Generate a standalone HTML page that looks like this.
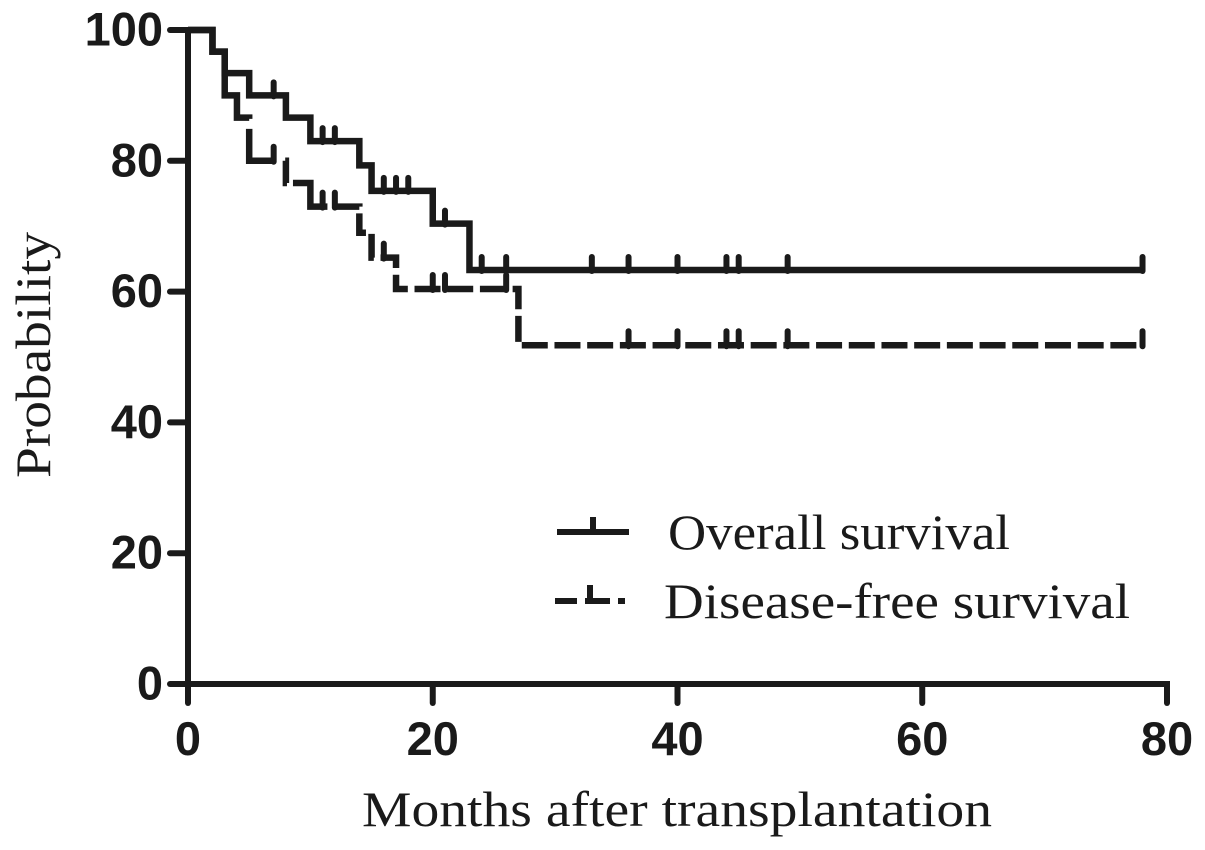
<!DOCTYPE html>
<html>
<head>
<meta charset="utf-8">
<style>
html,body{margin:0;padding:0;background:#fff;}
svg{display:block;}
text{fill:#1a1a1a;}
.tick-label{font-family:"Liberation Sans",sans-serif;font-weight:bold;font-size:47px;}
.serif{font-family:"Liberation Serif",serif;}
</style>
</head>
<body>
<svg id="chart" xmlns="http://www.w3.org/2000/svg" width="1205" height="850" viewBox="0 0 1205 850">
<text class="serif" font-size="50" transform="translate(50,355) rotate(-90)" text-anchor="middle" textLength="246" lengthAdjust="spacingAndGlyphs">Probability</text>
<text class="serif" font-size="50" x="362" y="826" textLength="630" lengthAdjust="spacingAndGlyphs">Months after transplantation</text>
<g>
<path d="M557 532H629M593 532V517" fill="none" stroke="#1a1a1a" stroke-width="6"/>
<text class="serif" font-size="50" x="668" y="549" textLength="342" lengthAdjust="spacingAndGlyphs">Overall survival</text>
<path d="M555 601H577M585 601H610M618 601H625M590 601V585" fill="none" stroke="#1a1a1a" stroke-width="6"/>
<text class="serif" font-size="50" x="664" y="618" textLength="466" lengthAdjust="spacingAndGlyphs">Disease-free survival</text>
</g>
</svg>
<script>
var xTicks = [0, 20, 40, 60, 80];
var yTicks = [0, 20, 40, 60, 80, 100];
var overallMonths = [0, 2, 3, 5, 8, 10, 14, 15, 20, 23, 78];
var overallValues = [100, 96.7, 93.4, 90, 86.6, 83, 79.3, 75.4, 70.4, 63.3, 63.3];
var overallCensored = [7, 11, 12, 16, 17, 18, 21, 24, 26, 33, 36, 40, 44, 45, 49, 78];
var diseaseFreeMonths = [0, 2, 3, 4, 5, 8, 10, 14, 15, 16, 17, 27, 78];
var diseaseFreeValues = [100, 96.7, 90, 86.6, 80, 76.6, 73, 69, 65.2, 65.2, 60.4, 51.8, 51.8];
var diseaseFreeCensored = [7, 11, 12, 16, 20, 21, 26, 36, 40, 44, 45, 49, 78];

var svg = document.getElementById('chart');
var NS = 'http://www.w3.org/2000/svg';
var INK = '#1a1a1a';
function xScale(m) { return 188 + (m - 0) * (1167 - 188) / 80; }
function yScale(v) { return 684 - v * (684 - 30) / 100; }
function make(tag, parent) {
  var el = document.createElementNS(NS, tag);
  parent.appendChild(el);
  return el;
}
function valueAt(months, values, m) {
  var v = values[0];
  for (var i = 0; i < months.length; i++) { if (months[i] <= m) v = values[i]; }
  return v;
}
function stepPath(months, values) {
  var d = 'M' + xScale(months[0]) + ' ' + yScale(values[0]);
  for (var i = 1; i < months.length; i++) {
    d += 'H' + xScale(months[i]);
    d += 'V' + yScale(values[i]);
  }
  return d;
}
function dashPattern() {
  var pattern = '150 10 58 10 24 6 58 6';
  for (var i = 0; i < 40; i++) { pattern += ' 26 6.7'; }
  return pattern;
}

var axes = make('g', svg);



var yAxis = make('line', axes);


yAxis.setAttribute('x1', xScale(0));
yAxis.setAttribute('x2', xScale(0));
yAxis.setAttribute('y1', yScale(100) - 3);
yAxis.setAttribute('y2', yScale(0) + 3);
yAxis.setAttribute('stroke', INK);
yAxis.setAttribute('stroke-width', 6);

var xAxis = make('line', axes);


xAxis.setAttribute('x1', xScale(0) - 3);
xAxis.setAttribute('x2', xScale(80) + 3);
xAxis.setAttribute('y1', yScale(0));
xAxis.setAttribute('y2', yScale(0));
xAxis.setAttribute('stroke', INK);
xAxis.setAttribute('stroke-width', 6);

xTicks.forEach(function (t) {
  var tick = make('line', axes);
  
  
  tick.setAttribute('x1', xScale(t));
  tick.setAttribute('x2', xScale(t));
  tick.setAttribute('y1', yScale(0));
  tick.setAttribute('y2', yScale(0) + 19);
  tick.setAttribute('stroke', INK);
  tick.setAttribute('stroke-width', 6);
  tick.setAttribute('stroke-linecap', 'round');
  var label = make('text', axes);
  
  
  label.setAttribute('class', 'tick-label');
  label.setAttribute('x', xScale(t));
  label.setAttribute('y', 755);
  label.setAttribute('text-anchor', 'middle');
  label.textContent = t;
});

yTicks.forEach(function (t) {
  var tick = make('line', axes);
  
  
  tick.setAttribute('x1', xScale(0) - 18);
  tick.setAttribute('x2', xScale(0));
  tick.setAttribute('y1', yScale(t));
  tick.setAttribute('y2', yScale(t));
  tick.setAttribute('stroke', INK);
  tick.setAttribute('stroke-width', 6);
  tick.setAttribute('stroke-linecap', 'round');
  var label = make('text', axes);
  
  
  label.setAttribute('class', 'tick-label');
  label.setAttribute('x', 163);
  label.setAttribute('y', yScale(t) + 15.5);
  label.setAttribute('text-anchor', 'end');
  label.textContent = t;
});

var overallLine = make('path', svg);


overallLine.setAttribute('d', stepPath(overallMonths, overallValues));
overallLine.setAttribute('fill', 'none');
overallLine.setAttribute('stroke', INK);
overallLine.setAttribute('stroke-width', 6.5);

var diseaseFreeLine = make('path', svg);


diseaseFreeLine.setAttribute('d', stepPath(diseaseFreeMonths, diseaseFreeValues));
diseaseFreeLine.setAttribute('fill', 'none');
diseaseFreeLine.setAttribute('stroke', INK);
diseaseFreeLine.setAttribute('stroke-width', 6.5);
diseaseFreeLine.setAttribute('stroke-dasharray', dashPattern());

overallCensored.forEach(function (m) {
  var v = valueAt(overallMonths, overallValues, m);
  var c = make('line', svg);
  
  
  c.setAttribute('x1', xScale(m));
  c.setAttribute('x2', xScale(m));
  c.setAttribute('y1', yScale(v) + 1);
  c.setAttribute('y2', yScale(v) - 13);
  c.setAttribute('stroke', INK);
  c.setAttribute('stroke-width', 6);
  c.setAttribute('stroke-linecap', 'round');
});

diseaseFreeCensored.forEach(function (m) {
  var v = valueAt(diseaseFreeMonths, diseaseFreeValues, m);
  var c = make('line', svg);
  
  
  c.setAttribute('x1', xScale(m));
  c.setAttribute('x2', xScale(m));
  c.setAttribute('y1', yScale(v) + 1);
  c.setAttribute('y2', yScale(v) - 14);
  c.setAttribute('stroke', INK);
  c.setAttribute('stroke-width', 6);
  c.setAttribute('stroke-linecap', 'round');
});
</script>
</body>
</html>
